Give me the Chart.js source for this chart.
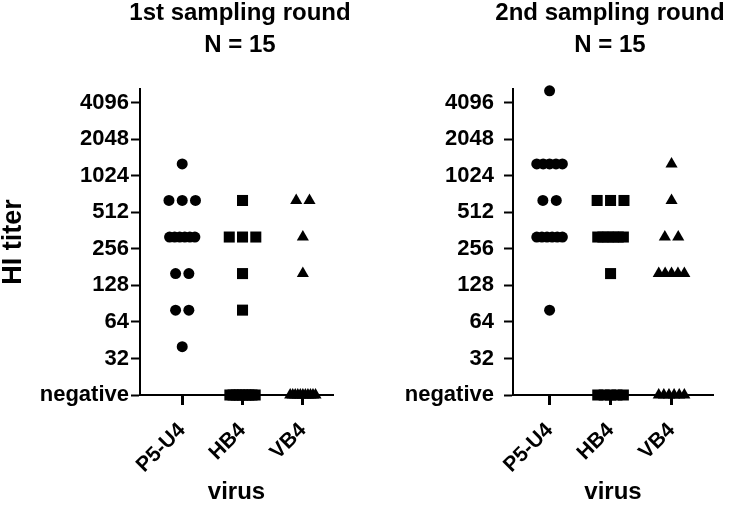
<!DOCTYPE html>
<html>
<head>
<meta charset="utf-8">
<script src="https://cdn.jsdelivr.net/npm/chart.js@4.4.0/dist/chart.umd.min.js"></script>
<style>
  html, body { margin: 0; padding: 0; background: #fff; }
  #wrap { position: relative; width: 731px; height: 513px; }
  .panel { position: absolute; top: 0; }
  .title {
    position: absolute; top: -4px; width: 300px; text-align: center;
    font: bold 24px/32px "Liberation Sans", Arial, sans-serif; color: #000;
  }
</style>
</head>
<body>
<div id="wrap">
  <canvas id="c1" class="panel" width="368" height="513" style="left:0"></canvas>
  <canvas id="c2" class="panel" width="363" height="513" style="left:368px"></canvas>
  <div class="title" style="left:90px">1st sampling round<br>N = 15</div>
  <div class="title" style="left:460px">2nd sampling round<br>N = 15</div>
</div>
<script>
// categories and tick labels
const groups = ['P5-U4', 'HB4', 'VB4'];
const yTicks = [16, 32, 64, 128, 256, 512, 1024, 2048, 4096];
// 0 = negative (plotted on the bottom "negative" row)
const NEG_LEVEL = 16;

// 1st sampling round, HI titers per virus
const r1P5 = [1280, 640, 640, 640, 320, 320, 320, 320, 320, 320, 160, 160, 80, 80, 40];
const r1HB4 = [640, 320, 320, 320, 160, 80, 0, 0, 0, 0, 0, 0, 0, 0, 0];
const r1VB4 = [640, 640, 320, 160, 0, 0, 0, 0, 0, 0, 0, 0, 0, 0, 0];

// 2nd sampling round
const r2P5 = [5120, 1280, 1280, 1280, 1280, 1280, 640, 640, 320, 320, 320, 320, 320, 320, 80];
const r2HB4 = [640, 640, 640, 320, 320, 320, 320, 320, 320, 160, 0, 0, 0, 0, 0];
const r2VB4 = [1280, 640, 320, 320, 160, 160, 160, 160, 160, 0, 0, 0, 0, 0, 0];

const FONT = '"Liberation Sans", Arial, sans-serif';

// spread points of equal titer side by side (column scatter)
function toPoints(values, cat) {
    const counts = {};
    values.forEach(v => counts[v] = (counts[v] || 0) + 1);
    const seen = {};
    return values.map(v => {
        const n = counts[v];
        const k = seen[v] = (seen[v] === undefined ? 0 : seen[v] + 1);
        const step = n <= 3 ? 0.22 : 0.42 / (n - 1);
        return { x: cat + (k - (n - 1) / 2) * step, y: v === 0 ? NEG_LEVEL : v };
    });
}

function makeDatasets(p5, hb4, vb4) {
    const base = { backgroundColor: '#000', borderColor: '#000', borderWidth: 0, clip: false };
    return [
        { ...base, data: toPoints(p5, 0), pointStyle: 'circle', pointRadius: 5.5 },
        { ...base, data: toPoints(hb4, 1), pointStyle: 'rect', pointRadius: 7.8 },
        { ...base, data: toPoints(vb4, 2), pointStyle: 'triangle', pointRadius: 7 }
    ];
}

function makeChart(id, datasets, showYTitle, xMin, xMax, yWidth, yTickPad, rightPad) {
    return new Chart(document.getElementById(id), {
        type: 'scatter',
        data: { datasets },
        options: {
            responsive: false,
            animation: false,
            layout: { padding: { left: 0, right: rightPad, top: 89, bottom: 4 } },
            plugins: {
                legend: { display: false },
                tooltip: { enabled: false },
                title: { display: false }
            },
            scales: {
                x: {
                    type: 'linear', min: xMin, max: xMax,
                    afterBuildTicks: s => { s.ticks = [0, 1, 2].map(v => ({ value: v })); },
                    afterFit: s => { s.height = 114; },
                    grid: { drawOnChartArea: false, drawTicks: true, tickLength: 10, tickWidth: 3, tickColor: '#000' },
                    border: { display: true, color: '#000', width: 2 },
                    ticks: {
                        autoSkip: false, minRotation: 45, maxRotation: 45, color: '#000', padding: 13,
                        font: { family: FONT, size: 21, weight: 'bold' },
                        callback: v => groups[v]
                    },
                    title: {
                        display: true, text: 'virus', color: '#000',
                        font: { family: FONT, size: 24, weight: 'bold' }, padding: { top: 2, bottom: 2 }
                    }
                },
                y: {
                    type: 'logarithmic', min: NEG_LEVEL, max: 5300,
                    afterBuildTicks: s => { s.ticks = yTicks.map(v => ({ value: v })); },
                    afterFit: s => { s.width = yWidth; },
                    grid: { drawOnChartArea: false, drawTicks: true, tickLength: 9, tickWidth: 2, tickColor: '#000' },
                    border: { display: true, color: '#000', width: 2 },
                    ticks: {
                        autoSkip: false, color: '#000', padding: yTickPad,
                        font: { family: FONT, size: 22, weight: 'bold' },
                        callback: v => v === NEG_LEVEL ? 'negative' : String(v)
                    },
                    title: {
                        display: showYTitle, text: 'HI titer', color: '#000',
                        font: { family: FONT, size: 27, weight: 'bold', lineHeight: 1 },
                        padding: { top: 0, bottom: 13 }
                    }
                }
            }
        }
    });
}

makeChart('c1', makeDatasets(r1P5, r1HB4, r1VB4), true, -0.7, 2.5, 140, 2, 35);
makeChart('c2', makeDatasets(r2P5, r2HB4, r2VB4), false, -0.6, 2.68, 145, 10, 18);
</script>
</body>
</html>
